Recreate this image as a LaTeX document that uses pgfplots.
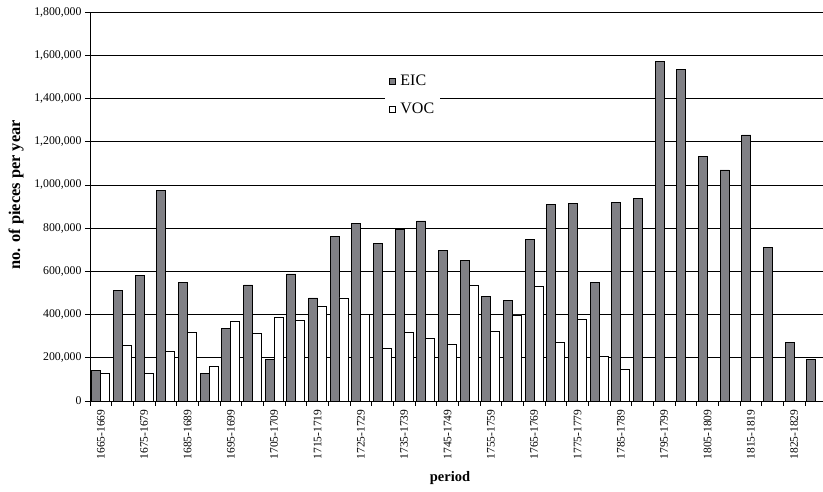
\documentclass[border=0pt]{standalone}
\usepackage{pgfplots}
\pgfplotsset{compat=1.18}
\usepackage{fontspec}
\setmainfont{Liberation Serif}
\definecolor{eicgray}{RGB}{128,128,133}
\begin{document}
\begin{tikzpicture}
\begin{axis}[
  name=ax,
  width=733pt, height=389pt, scale only axis,
  xmin=-0.5, xmax=33.33,
  ymin=0, ymax=1800000,
  axis x line=bottom, axis y line=left,
  axis line style={-, line width=0.9pt},
  ybar=0pt, bar width=9pt,
  xtick={0,2,...,32},
  xticklabels={1665-1669,1675-1679,1685-1689,1695-1699,1705-1709,1715-1719,1725-1729,1735-1739,1745-1749,1755-1759,1765-1769,1775-1779,1785-1789,1795-1799,1805-1809,1815-1819,1825-1829},
  major x tick style={draw=none},
  minor xtick={-0.5,0.5,...,32.5},
  minor tick length=5pt,
  major tick length=5pt,
  tick align=outside,
  tick style={black, line width=0.7pt},
  x tick label style={rotate=90, anchor=east, font=\fontsize{11.5}{13}\selectfont},
  ytick={0,200000,...,1800000},
  ymajorgrids, grid style={black, line width=0.6pt},
  y tick label style={font=\fontsize{11.8}{13}\selectfont},
  yticklabel style={/pgf/number format/.cd, fixed, 1000 sep={,}, assume math mode=true},
  scaled y ticks=false,
  ylabel={no. of pieces per year},
  xlabel={period},
  every axis y label/.style={at={(axis description cs:0,0.53)}, xshift=-74pt, rotate=90, anchor=center, font=\bfseries\fontsize{16.4}{18}\selectfont},
  every axis x label/.style={at={(axis description cs:0,0)}, xshift=360pt, yshift=-77pt, anchor=center, font=\bfseries\fontsize{14.5}{16}\selectfont},
  legend style={at={(0.44,0.787)}, anchor=center, draw=none, fill=white, font=\fontsize{16}{18}\selectfont, row sep=12pt, inner xsep=4pt, inner ysep=3pt},
  legend cell align=left,
]
\addplot[fill=eicgray, draw=black, line width=0.8pt,
  legend image code/.code={\draw[fill=eicgray, draw=black, line width=0.6pt] (0pt,-3pt) rectangle (6pt,3pt);}]
coordinates {
(0,143000) (1,512000) (2,580000) (3,975000) (4,548000) (5,126000) (6,336000) (7,537000) (8,193000) (9,588000)
(10,477000) (11,762000) (12,822000) (13,728000) (14,794000) (15,833000) (16,697000) (17,651000) (18,484000) (19,464000)
(20,748000) (21,908000) (22,915000) (23,548000) (24,919000) (25,938000) (26,1570000) (27,1533000) (28,1130000) (29,1069000)
(30,1231000) (31,711000) (32,270000) (33,194000)
};
\addlegendentry{\hspace{3pt}EIC}
\addplot[fill=white, draw=black, line width=0.8pt,
  legend image code/.code={\draw[fill=white, draw=black, line width=0.6pt] (0pt,-3pt) rectangle (6pt,3pt);}]
coordinates {
(0,128000) (1,259000) (2,128000) (3,228000) (4,318000) (5,159000) (6,366000) (7,313000) (8,389000) (9,373000)
(10,438000) (11,477000) (12,401000) (13,242000) (14,318000) (15,288000) (16,264000) (17,534000) (18,322000) (19,398000)
(20,529000) (21,270000) (22,379000) (23,205000) (24,148000)
};
\addlegendentry{\hspace{3pt}VOC}
\end{axis}
\pgfresetboundingbox
\path[use as bounding box] ([xshift=-90pt,yshift=-91pt]ax.south west) rectangle ([yshift=12pt]ax.north east);
\end{tikzpicture}
\end{document}
